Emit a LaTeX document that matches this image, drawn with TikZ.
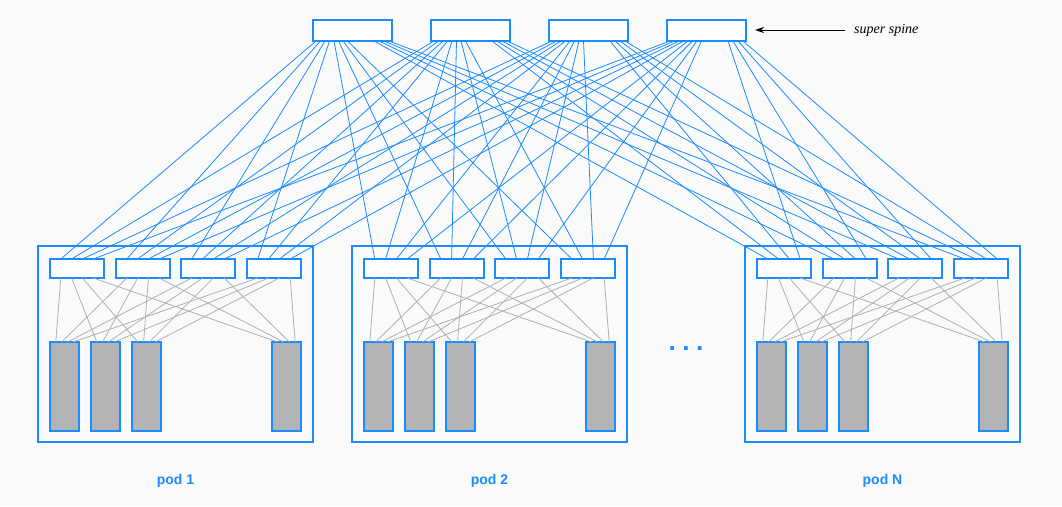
\documentclass[tikz,border=0pt]{standalone}
\usepackage{fontspec}
\setmainfont{Liberation Serif}
\setsansfont{Liberation Sans}
\usetikzlibrary{calc,arrows.meta}
\definecolor{bl}{HTML}{1A8CFF}
\definecolor{gl}{HTML}{B0B0B0}
\definecolor{rk}{HTML}{B3B3B3}
\definecolor{bgc}{HTML}{FAFAFA}
\begin{document}
\begin{tikzpicture}[x=1pt,y=-1pt,
  box/.style={draw=bl, line width=1.1pt, inner sep=0pt, outer sep=0pt, anchor=north west},
  ssbox/.style={box, fill=white, minimum width=79pt, minimum height=21pt},
  podbox/.style={box, minimum width=275pt, minimum height=196pt},
  spbox/.style={box, fill=white, minimum width=54pt, minimum height=19pt},
  rackbox/.style={box, fill=rk, minimum width=29pt, minimum height=89pt},
  bline/.style={draw=bl, line width=0.8pt},
  gline/.style={draw=gl, line width=0.8pt},
  podlbl/.style={text=bl, font=\sffamily\bfseries\fontsize{14}{16}\selectfont},
  sslbl/.style={font=\itshape\fontsize{14}{16}\selectfont, inner xsep=9pt, inner ysep=0pt, anchor=west}
]
\fill[bgc] (0,0) rectangle (1062,506);
\useasboundingbox (0,0) rectangle (1062,506);

% super spines
\foreach \s/\x in {1/313,2/431,3/549,4/667}
  \node[ssbox] (ss\s) at (\x,20) {};

% pods
\foreach \p/\x in {1/38,2/352,3/745}{
  \node[podbox] (pod\p) at (\x,246) {};
  \foreach \j/\o in {1/12,2/78,3/143,4/209}
    \node[spbox] (p\p s\j) at (\x+\o,259) {};
  \foreach \k/\o in {1/12,2/53,3/94,4/234}
    \node[rackbox] (p\p r\k) at (\x+\o,342) {};
}

% gray links spine -> rack
\foreach \p in {1,2,3}
  \foreach \j in {1,2,3,4}
    \foreach \k in {1,2,3,4}
      \draw[gline] ($(p\p s\j.south west)!{0.2*\k}!(p\p s\j.south east)$) -- ($(p\p r\k.north west)!{0.2*\j}!(p\p r\k.north east)$);

% blue links super spine -> pod spine
\foreach \s in {1,2,3,4}
  \foreach \p in {1,2,3}
    \foreach \j in {1,2,3,4}{
      \pgfmathsetmacro\off{\p<3 ? 3+4.5*(4*(\p-1)+\j-1) : 61+5*(\j-1)}
      \draw[bline] ($(ss\s.south west)+(\off,0)$) -- ($(p\p s\j.north west)!{0.2*\s}!(p\p s\j.north east)$);
    }

% label and arrow
\node[sslbl] (sslabel) at (845,30) {super spine};
\draw[line width=0.9pt, -{Stealth[length=9pt,width=6pt]}, shorten >=9pt] (sslabel.west) -- (ss4.east |- sslabel.west);

% pod labels
\node[podlbl] (lbl1) at (pod1.south |- 0,481) {pod 1};
\node[podlbl] (lbl2) at (pod2.south |- 0,481) {pod 2};
\node[podlbl] (lbl3) at (pod3.south |- 0,481) {pod N};

% dots
\node[text=bl, font=\sffamily\bfseries\fontsize{26}{26}\selectfont, anchor=base, inner sep=0pt] (dots) at (686,350) {.\hspace{6.5pt}.\hspace{6.5pt}.};
\end{tikzpicture}
\end{document}
